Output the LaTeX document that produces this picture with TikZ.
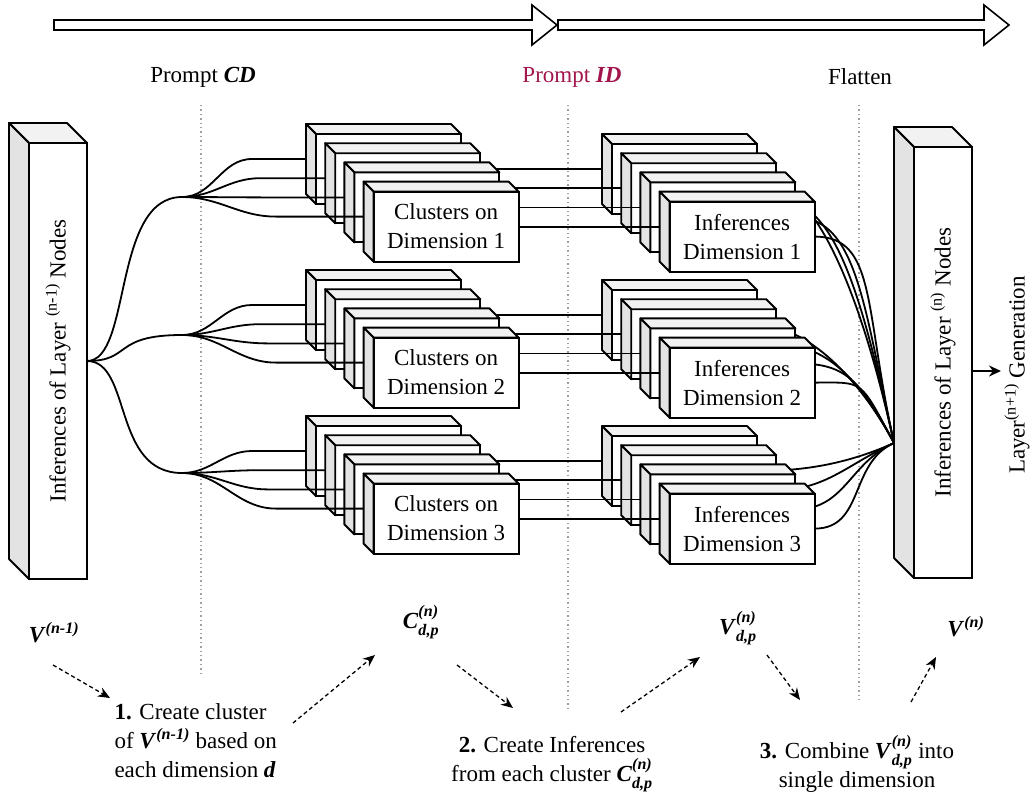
\documentclass[tikz,border=0pt]{standalone}
\usepackage{fontspec}
\setmainfont{Liberation Serif}
\usepackage{amsmath}
\usepackage{graphicx}
\usetikzlibrary{arrows.meta,calc}
\definecolor{topgray}{RGB}{242,242,242}
\definecolor{sidegray}{RGB}{227,227,227}
\definecolor{promptred}{RGB}{163,21,77}
\definecolor{dotgray}{RGB}{160,160,160}
\newcommand{\bfit}[1]{\textbf{\textit{#1}}}
\newcommand{\threed}[7]{%
  \node[face, minimum width=#4pt, minimum height=#5pt, anchor=north west] (#1) at (#2,#3) {#7};
  \draw[edge, fill=topgray] (#1.north west) -- ++(-#6,-#6) -- ($(#1.north east)+(-#6,-#6)$) -- (#1.north east) -- cycle;
  \draw[edge, fill=sidegray] (#1.north west) -- ++(-#6,-#6) -- ($(#1.south west)+(-#6,-#6)$) -- (#1.south west) -- cycle;
}
\begin{document}
\begin{tikzpicture}[x=1pt, y=-1pt,
  every node/.style={font=\fontsize{23}{29}\selectfont},
  face/.style={draw, fill=white, line width=1.9pt, inner sep=0pt, outer sep=0pt, align=center},
  edge/.style={line width=1.9pt, line join=round},
  conn/.style={line width=1.8pt},
  bigarrow/.style={draw, fill=white, line width=1.6pt, line join=miter},
  dots/.style={dotgray, line width=1.4pt, dash pattern=on 1.4pt off 3pt},
  dasharrow/.style={line width=1.3pt, dash pattern=on 4pt off 3pt, -{Stealth[length=12pt,width=10pt]}}]
\useasboundingbox (0,0) rectangle (1032,793);

% process arrows on top
\draw[bigarrow] (54,20) -- (532,20) -- (532,5) -- (557,25) -- (532,45) -- (532,30) -- (54,30) -- cycle;
\draw[bigarrow] (558,20) -- (984,20) -- (984,5) -- (1009,25) -- (984,45) -- (984,30) -- (558,30) -- cycle;

\node (pcd) at (203,77) {Prompt \bfit{CD}};
\node[text=promptred] (pid) at (572,77) {Prompt \bfit{ID}};
\node (fl) at (860,77) {Flatten};

% dotted separators
\draw[dots] (201,105) -- (201,673);
\draw[dots] (568,105) -- (568,711);
\draw[dots] (859,105) -- (859,700);

% big boxes
\threed{L}{29}{143}{58}{436}{20}{\rotatebox{90}{Inferences of Layer \textsuperscript{(n-1)} Nodes}}
\threed{R}{914}{147}{58}{431}{20}{\rotatebox{90}{Inferences of Layer \textsuperscript{(n)} Nodes}}

\coordinate (sp0) at (182,197);
\coordinate (sp1) at (182,335);
\coordinate (sp2) at (182,473);
\coordinate (conv) at (894,443);

\foreach \s in {0,1,2} \draw[conn] (L.east) .. controls +(45,0) and +(-70,0) .. (sp\s);

\foreach \s/\kf/\kx/\ky in {0/62/-30/-135,1/50/-35/-65,2/50/-45/20} {
  \pgfmathtruncatemacro{\dn}{\s+1}
  \foreach \i in {0,1,2,3} {
    \pgfmathsetmacro{\cx}{316+19.2*\i}
    \pgfmathsetmacro{\cyy}{134+19.2*\i+146*\s}
    \pgfmathsetmacro{\fx}{612+19.2*\i}
    \pgfmathsetmacro{\fy}{144+19.2*\i+146*\s}
    \pgfmathsetmacro{\bend}{-64-11.2*\i}
    \ifnum\i=3 \def\ctext{Clusters on\\Dimension \dn}\def\ftext{Inferences\\Dimension \dn}\else\def\ctext{}\def\ftext{}\fi
    \threed{c\s\i}{\cx}{\cyy}{145}{70}{10}{\ctext}
    \draw[conn] (sp\s) to[out=0,in=180] ($(c\s\i.west)+(\bend,-10)$) -- ($(c\s\i.west)+(-10,-10)$);
    \threed{f\s\i}{\fx}{\fy}{145}{70}{10}{\ftext}
    \draw[conn] (c\s\i.east) -- ($(f\s\i.west)+(-10,-10)$);
    \draw[conn] (f\s\i.east) .. controls +(\kf,0) and +(\kx,\ky) .. (conv);
  }
}

% next layer
\node[rotate=90] (gen) at (1017,375) {Layer\textsuperscript{(n+1)} Generation};
\coordinate (gx) at (1001,371);
\draw[conn, -{Stealth[length=12pt,width=11pt]}] (R.east |- gx) -- (gx);

% bottom annotations
\node (v1) at (54,633) {$\bfit{V}^{\bfit{(n-1)}}$};
\node[align=left, anchor=west] (s1) at (111,741) {\textbf{1.} Create cluster\\of $\bfit{V}^{\bfit{(n-1)}}$ based on\\each dimension \bfit{d}};
\node (cdp) at (421,622) {$\bfit{C}^{\bfit{(n)}}_{\bfit{d,p}}$};
\node[align=center] (s2) at (552,764) {\textbf{2.} Create Inferences\\from each cluster $\bfit{C}^{\bfit{(n)}}_{\bfit{d,p}}$};
\node (vdp) at (738,628) {$\bfit{V}^{\bfit{(n)}}_{\bfit{d,p}}$};
\node[align=center] (s3) at (857,764) {\textbf{3.} Combine $\bfit{V}^{\bfit{(n)}}_{\bfit{d,p}}$ into\\single dimension};
\node (vn) at (966,627) {$\bfit{V}^{\bfit{(n)}}$};

\coordinate (a1s) at (53,665);  \coordinate (a1e) at (110,698);
\coordinate (a2s) at (293,723); \coordinate (a2e) at (375,655);
\coordinate (a3s) at (457,665); \coordinate (a3e) at (513,708);
\coordinate (a4s) at (621,712); \coordinate (a4e) at (700,657);
\coordinate (a5s) at (767,655); \coordinate (a5e) at (800,700);
\coordinate (a6s) at (911,702); \coordinate (a6e) at (936,657);
\draw[dasharrow] (a1s) -- (a1e);
\draw[dasharrow] (a2s) -- (a2e);
\draw[dasharrow] (a3s) -- (a3e);
\draw[dasharrow] (a4s) -- (a4e);
\draw[dasharrow] (a5s) -- (a5e);
\draw[dasharrow] (a6s) -- (a6e);
\end{tikzpicture}
\end{document}
